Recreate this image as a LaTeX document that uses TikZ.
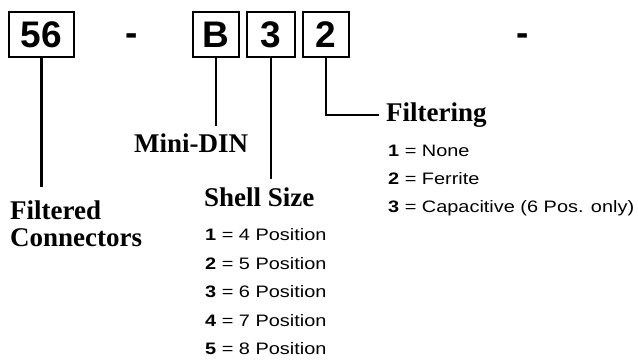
\documentclass[tikz,border=0pt]{standalone}
\usepackage{fontspec}
\setmainfont{Liberation Serif}
\newfontfamily\boxfont{Liberation Sans}
\newfontfamily\listfont[FakeStretch=1.2]{Liberation Sans}
\usetikzlibrary{positioning}

\begin{document}
\begin{tikzpicture}[
      x=1pt, y=-1pt,
      digitbox/.style={rectangle, draw, line width=2.2pt, minimum height=45pt, inner sep=0pt, font=\boxfont\bfseries\fontsize{37}{37}\selectfont},
      sepmark/.style={inner sep=0pt, anchor=base, font=\boxfont\bfseries\fontsize{37}{37}\selectfont},
      lead/.style={line width=2.2pt},
      heading/.style={inner sep=0pt, anchor=base west, align=left, font=\bfseries\fontsize{27}{26.7}\selectfont},
      option/.style={inner sep=0pt, anchor=base west, font=\listfont\fontsize{16.6}{16.6}\selectfont}
  ]
      \useasboundingbox (0,0) rectangle (638,360);

      % Part number boxes
      \node[digitbox, minimum width=65pt] (b56) at (41.5,34.5) {56};
      \node[digitbox, minimum width=46pt] (bB) at (216,34.5) {B};
      \node[digitbox, minimum width=48pt] (b3) at (271,34.5) {3};
      \node[digitbox, minimum width=46pt] (b2) at (326,34.5) {2};
      \node[sepmark] (d1) at (132,45) {-};
      \node[sepmark] (d2) at (523,45) {-};

      % Headings
      \node[heading] (fc) at (10,246) {Filtered\\Connectors};
      \node[heading] (md) at (134,152) {Mini-DIN};
      \node[heading] (ss) at (204,206.7) {Shell Size};
      \node[heading, inner xsep=7pt, inner ysep=0pt] (fil) at (379,121.7) {Filtering};

      % Option lists
      \foreach \n/\p [count=\i from 0] in {1/4,2/5,3/6,4/7,5/8}
        \node[option] (ss\n) at (205,240.7+28.5*\i) {\textbf{\n} = \p\ Position};
      \foreach \n/\t [count=\i from 0] in {1/None,2/Ferrite,3/{Capacitive (6 Pos. only)}}
        \node[option] (fo\n) at (388,156+28*\i) {\textbf{\n} = \t};

      % Leads
      \coordinate (e56) at (42,187);
      \coordinate (eB) at (213,126);
      \coordinate (e3) at (274,179);
      \draw[lead] (b56.south) -- (b56.south |- e56);
      \draw[lead] (bB.south) -- (bB.south |- eB);
      \draw[lead] (b3.south) -- (b3.south |- e3);
      \draw[lead] (b2.south) |- (fil.west);
\end{tikzpicture}
\end{document}
